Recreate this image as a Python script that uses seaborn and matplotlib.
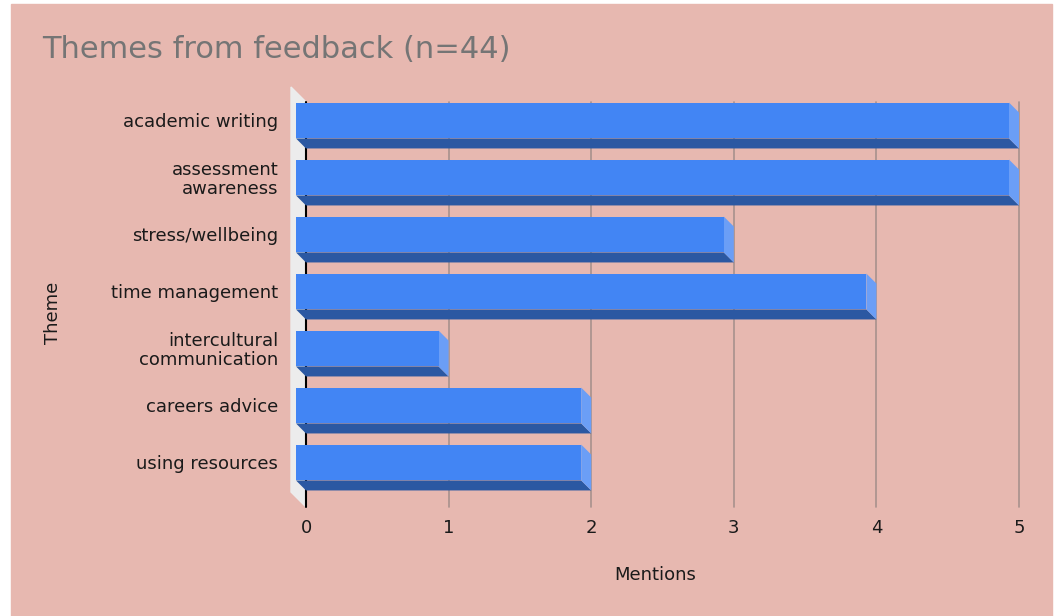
import matplotlib
matplotlib.use("Agg")
import matplotlib.pyplot as plt
import matplotlib.patches as mpatches
import matplotlib.transforms as mtransforms
import seaborn as sns
import pandas as pd

themes = ["academic writing", "assessment\nawareness", "stress/wellbeing",
          "time management", "intercultural\ncommunication", "careers advice",
          "using resources"]
mentions = [5, 5, 3, 4, 1, 2, 2]
x_ticks = [0, 1, 2, 3, 4, 5]

bg = "#e7b8b0"
front = "#4285f4"
bottom = "#2b58a2"
side = "#6b9ef6"

sns.set_theme(style="white")
plt.rcParams["font.family"] = ["DejaVu Sans"]

W, H = 1057, 616
fig = plt.figure(figsize=(W / 100, H / 100), dpi=100, facecolor="white")
# pink panel
fig.patches.append(mpatches.Rectangle((11 / W, 0), (1052 - 11) / W, (616 - 4) / H,
                                      transform=fig.transFigure, color=bg, zorder=-10))

x0, x1, ytop, ybot = 306, 1019, 102, 501
ax = fig.add_axes([x0 / W, 1 - ybot / H, (x1 - x0) / W, (ybot - ytop) / H])
ax.set_facecolor("none")

df = pd.DataFrame({"Theme": themes, "Mentions": mentions})
sns.barplot(data=df, x="Mentions", y="Theme", color=front, saturation=1,
            width=0.63, ax=ax, zorder=5)
n = len(themes)
ax.set_xlim(0, 5)
ax.set_ylim(n - 0.5, -0.5)

# pixel offsets in data units
dxp = 5 / (x1 - x0)
dyp = n / (ybot - ytop)
d = 10
dx, dy = d * dxp, d * dyp
ext = 6 * dyp  # axis/grid run a little past the last band

# left wall
w = 15
ax.add_patch(mpatches.Polygon([(0, -0.5), (-w * dxp, -0.5 - w * dyp),
                               (-w * dxp, n - 0.5 + ext - w * dyp),
                               (0, n - 0.5 + ext)],
                              closed=True, color="#ececec", clip_on=False, zorder=1))

# grid
for t in x_ticks[1:]:
    ax.plot([t, t], [-0.5, n - 0.5 + ext], color="#a8918c", lw=1.2, zorder=2,
            clip_on=False)
ax.plot([0, 0], [-0.5, n - 0.5 + ext], color="black", lw=1.5, zorder=3, clip_on=False)

for p in ax.patches[:]:
    if not isinstance(p, mpatches.Rectangle):
        continue
    bx, by = p.get_x(), p.get_y()
    bw, bh = p.get_width(), p.get_height()
    if bw <= 0:
        continue
    # back face at (bx, by); front face shifted left/up
    fx, fy = bx - dx, by - dy
    ax.add_patch(mpatches.Polygon([(fx, fy + bh), (fx + bw, fy + bh),
                                   (bx + bw, by + bh), (bx, by + bh)],
                                  closed=True, color=bottom, lw=0, clip_on=False, zorder=4))
    ax.add_patch(mpatches.Polygon([(fx + bw, fy), (bx + bw, by),
                                   (bx + bw, by + bh), (fx + bw, fy + bh)],
                                  closed=True, color=side, lw=0, clip_on=False, zorder=4))
    p.set_x(fx)
    p.set_y(fy)
    p.set_linewidth(0)
    p.set_clip_on(False)

for s in ax.spines.values():
    s.set_visible(False)

ax.set_xticks(x_ticks)
ax.set_xticklabels([str(t) for t in x_ticks], fontsize=13, color="#1a1a1a")
ax.tick_params(axis="x", length=0, pad=13)
ax.set_yticks(range(n))
ax.set_yticklabels(themes, fontsize=13, color="#1a1a1a", linespacing=1.1)
ax.tick_params(axis="y", length=0, pad=20)
# y labels sit at the front face centres
off = mtransforms.ScaledTranslation(0, 11 / 100, fig.dpi_scale_trans)
for lab in ax.get_yticklabels():
    lab.set_transform(lab.get_transform() + off)

ax.set_xlabel("")
ax.set_ylabel("")
fig.text(655 / W, 1 - 575 / H, "Mentions", fontsize=13, color="#1a1a1a",
         ha="center", va="center")
fig.text(53 / W, 1 - 313 / H, "Theme", rotation=90, fontsize=13, color="#1a1a1a",
         ha="center", va="center")
fig.text(42 / W, 1 - 49 / H, "Themes from feedback (n=44)", fontsize=22,
         color="#757575", ha="left", va="center")

fig.savefig("out.png", dpi=100, facecolor="white")
